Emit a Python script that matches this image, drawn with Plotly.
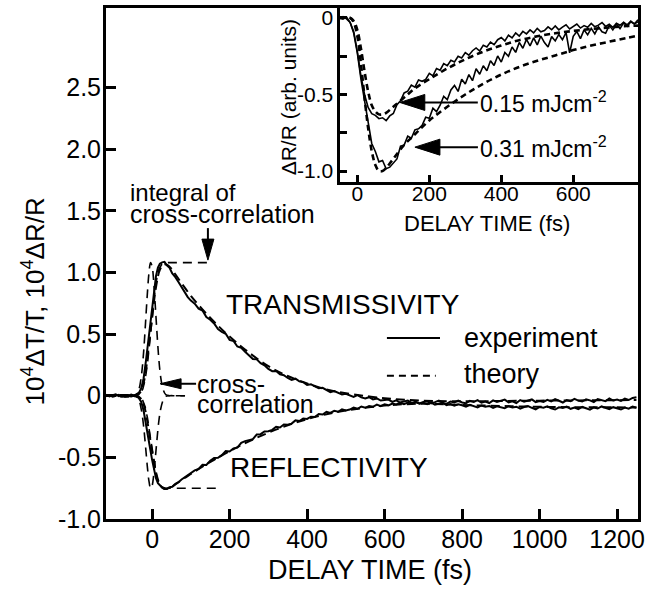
import plotly.graph_objects as go

FONT = "Liberation Sans, Arial, Helvetica, sans-serif"

# ---------------- main panel data ----------------
# delay times for the measured traces (fs)
t_exp = [
    -118, -110, -102, -94, -86, -78, -70, -62, -54, -46,
    -40, -34, -28, -22, -16, -10,
    -5, 0, 5, 10, 15, 20,
    26, 32, 38, 45, 52, 60, 68, 76, 84, 92, 100,
    110, 120, 130, 140, 150, 160, 170, 180, 190, 200,
    210, 220, 230, 240, 250, 260, 270, 280, 290, 300,
    310, 320, 330, 340, 350, 360, 370, 380, 390, 400,
    410, 420, 430, 440, 450, 460, 470, 480, 490, 500,
    510, 520, 530, 540, 550, 560, 570, 580, 590, 600,
    610, 620, 630, 640, 650, 660, 670, 680, 690, 700,
    710, 720, 730, 740, 750, 760, 770, 780, 790, 800,
    810, 820, 830, 840, 850, 860, 870, 880, 890, 900,
    910, 920, 930, 940, 950, 960, 970, 980, 990, 1000,
    1010, 1020, 1030, 1040, 1050, 1060, 1070, 1080, 1090, 1100,
    1110, 1120, 1130, 1140, 1150, 1160, 1170, 1180, 1190, 1200,
    1210, 1220, 1230, 1240, 1250,
]

# transmissivity, experiment (1e4 dT/T)
trans_exp = [
    0.008, -0.006, 0.004, 0.012, -0.004, 0.006, -0.008, 0.002, 0.01, 0.0,
    0.01, 0.025, 0.06, 0.14, 0.28, 0.44,
    0.57, 0.71, 0.85, 0.97, 1.04, 1.07,
    1.082, 1.086, 1.058, 1.038, 0.992, 0.962, 0.922, 0.878, 0.842, 0.800, 0.772,
    0.747, 0.706, 0.691, 0.638, 0.616, 0.586, 0.540, 0.518, 0.502, 0.453,
    0.444, 0.399, 0.388, 0.357, 0.324, 0.298, 0.295, 0.264, 0.247, 0.217,
    0.199, 0.200, 0.174, 0.166, 0.144, 0.128, 0.138, 0.116, 0.110, 0.087,
    0.092, 0.073, 0.060, 0.064, 0.047, 0.029, 0.038, 0.025, 0.010, 0.016,
    0.002, -0.009, 0.005, -0.014, -0.022, -0.012, -0.030, -0.022, -0.039, -0.033,
    -0.031, -0.050, -0.037, -0.055, -0.046, -0.040, -0.058, -0.049, -0.063, -0.050,
    -0.045, -0.062, -0.052, -0.040, -0.058, -0.066, -0.047, -0.054, -0.039, -0.055,
    -0.061, -0.042, -0.050, -0.036, -0.057, -0.047, -0.060, -0.038, -0.051, -0.043,
    -0.032, -0.054, -0.045, -0.060, -0.035, -0.048, -0.041, -0.030, -0.052, -0.044,
    -0.050, -0.033, -0.046, -0.028, -0.041, -0.055, -0.036, -0.044, -0.025, -0.040,
    -0.047, -0.030, -0.038, -0.052, -0.027, -0.036, -0.045, -0.022, -0.039, -0.031,
    -0.042, -0.024, -0.035, -0.018, -0.012,
]

# reflectivity, experiment (1e4 dR/R)
refl_exp = [
    -0.004, 0.006, -0.008, 0.002, 0.008, -0.006, 0.004, -0.002, -0.006, 0.002,
    -0.005, -0.02, -0.05, -0.12, -0.22, -0.33,
    -0.43, -0.52, -0.60, -0.67, -0.71, -0.73,
    -0.745, -0.752, -0.755, -0.742, -0.738, -0.714, -0.702, -0.68, -0.662, -0.645, -0.628,
    -0.606, -0.594, -0.560, -0.561, -0.527, -0.505, -0.504, -0.482, -0.449, -0.452,
    -0.427, -0.421, -0.382, -0.368, -0.361, -0.352, -0.315, -0.312, -0.290, -0.288,
    -0.277, -0.252, -0.258, -0.233, -0.236, -0.226, -0.200, -0.205, -0.185, -0.188,
    -0.170, -0.172, -0.148, -0.152, -0.131, -0.140, -0.122, -0.130, -0.111, -0.119,
    -0.112, -0.097, -0.106, -0.088, -0.098, -0.083, -0.090, -0.072, -0.085, -0.070,
    -0.078, -0.063, -0.071, -0.058, -0.069, -0.056, -0.066, -0.052, -0.064, -0.057,
    -0.068, -0.055, -0.072, -0.064, -0.058, -0.076, -0.067, -0.080, -0.070, -0.078,
    -0.088, -0.074, -0.085, -0.095, -0.079, -0.090, -0.083, -0.099, -0.086, -0.094,
    -0.102, -0.085, -0.096, -0.089, -0.105, -0.092, -0.084, -0.098, -0.110, -0.091,
    -0.097, -0.086, -0.103, -0.112, -0.094, -0.100, -0.088, -0.106, -0.096, -0.108,
    -0.091, -0.102, -0.113, -0.095, -0.104, -0.087, -0.099, -0.109, -0.093, -0.101,
    -0.112, -0.096, -0.105, -0.089, -0.098,
]

# theory curves
t_theory = [-120, -40, -30, -20, -10, 0, 10, 20, 30, 40, 50, 60, 80, 100, 130,
            160, 200, 250, 300, 350, 400, 450, 500, 600, 700, 800, 1000, 1250]
trans_theory = [0.0, 0.0, 0.03, 0.13, 0.36, 0.63, 0.88, 1.02, 1.065, 1.06, 1.03,
                0.985, 0.895, 0.81, 0.70, 0.60, 0.48, 0.35, 0.24, 0.16, 0.10,
                0.05, 0.02, -0.02, -0.04, -0.045, -0.04, -0.035]
refl_theory = [0.0, 0.0, -0.02, -0.09, -0.25, -0.45, -0.62, -0.72, -0.755, -0.755,
               -0.74, -0.72, -0.675, -0.635, -0.575, -0.52, -0.45, -0.37, -0.30,
               -0.24, -0.19, -0.15, -0.12, -0.08, -0.065, -0.075, -0.09, -0.095]

# pump-probe cross-correlation (scaled to each signal)
t_cc = [-60, -45, -35, -28, -22, -17, -12, -8, -4, 0, 4, 8, 12, 17, 22, 28, 35, 45, 60, 85]
cc_trans = [0.0, 0.0, 0.045, 0.155, 0.35, 0.59, 0.84, 1.0, 1.08, 1.05, 0.93, 0.74,
            0.54, 0.31, 0.155, 0.055, 0.01, 0.0, 0.0, 0.0]
cc_refl = [0.0, 0.0, -0.03, -0.11, -0.245, -0.41, -0.585, -0.695, -0.75, -0.73,
           -0.645, -0.515, -0.375, -0.215, -0.11, -0.04, -0.005, 0.0, 0.0, 0.0]

# integral of the cross-correlation
t_int_trans = [-60, -40, -30, -24, -18, -12, -6, 0, 6, 12, 18, 25, 35, 150]
int_trans = [0.0, 0.005, 0.02, 0.055, 0.13, 0.26, 0.44, 0.64, 0.82, 0.95, 1.03, 1.065, 1.08, 1.08]
t_int_refl = [-60, -40, -30, -24, -18, -12, -6, 0, 6, 12, 18, 25, 35, 175]
int_refl = [0.0, -0.004, -0.015, -0.04, -0.09, -0.18, -0.31, -0.44, -0.57, -0.66,
            -0.715, -0.74, -0.75, -0.75]

# ---------------- inset data ----------------
t_in = [
    -50, -40, -30, -20, -10, 0, 10, 20, 30, 40,
    50, 60, 70, 80, 90, 100, 110, 120, 130, 140,
    150, 160, 170, 180, 190, 200, 210, 220, 230, 240,
    250, 260, 270, 280, 290, 300, 310, 320, 330, 340,
    350, 360, 370, 380, 390, 400, 410, 420, 430, 440,
    450, 460, 470, 480, 490, 500, 510, 520, 530, 540,
    550, 560, 570, 580, 590, 600, 610, 620, 630, 640,
    650, 660, 670, 680, 690, 700, 710, 720, 730, 740,
    750, 760, 770, 780,
]
fluence_015 = [
    0.0, 0.008, -0.006, -0.03, -0.09, -0.22, -0.38, -0.50, -0.585, -0.625,
    -0.636, -0.658, -0.652, -0.671, -0.64, -0.624, -0.566, -0.541, -0.49, -0.478,
    -0.438, -0.452, -0.405, -0.414, -0.401, -0.362, -0.378, -0.33, -0.341, -0.298,
    -0.312, -0.276, -0.288, -0.25, -0.262, -0.226, -0.243, -0.214, -0.196, -0.216,
    -0.178, -0.19, -0.158, -0.175, -0.142, -0.128, -0.15, -0.112, -0.13, -0.098,
    -0.118, -0.088, -0.104, -0.078, -0.097, -0.068, -0.09, -0.082, -0.058, -0.077,
    -0.052, -0.078, -0.06, -0.045, -0.072, -0.058, -0.04, -0.066, -0.05, -0.061,
    -0.036, -0.058, -0.047, -0.03, -0.055, -0.041, -0.062, -0.035, -0.048, -0.028,
    -0.045, -0.02, -0.038, -0.025,
]
fluence_031 = [
    0.0, -0.008, 0.006, -0.03, -0.1, -0.23, -0.40, -0.55, -0.70, -0.82,
    -0.872, -0.94, -0.931, -0.985, -0.975, -0.944, -0.921, -0.838, -0.831, -0.772,
    -0.786, -0.731, -0.724, -0.702, -0.648, -0.655, -0.589, -0.612, -0.57, -0.512,
    -0.534, -0.47, -0.441, -0.48, -0.40, -0.432, -0.37, -0.41, -0.332, -0.368,
    -0.312, -0.345, -0.28, -0.31, -0.248, -0.288, -0.226, -0.25, -0.19, -0.225,
    -0.16, -0.198, -0.14, -0.182, -0.13, -0.176, -0.118, -0.161, -0.19, -0.122,
    -0.15, -0.108, -0.142, -0.095, -0.228, -0.12, -0.088, -0.135, -0.078, -0.11,
    -0.068, -0.104, -0.058, -0.09, -0.1, -0.048, -0.078, -0.04, -0.07, -0.032,
    -0.055, -0.025, -0.04, -0.012,
]
t_in_theory = [-50, -20, -10, 0, 10, 20, 30, 40, 50, 60, 70, 80, 100, 130, 160,
               200, 250, 300, 350, 400, 450, 500, 550, 600, 650, 700, 750, 780]
theory_015 = [0.0, 0.0, -0.02, -0.08, -0.2, -0.35, -0.48, -0.57, -0.61, -0.63, -0.63,
              -0.62, -0.58, -0.52, -0.46, -0.40, -0.33, -0.27, -0.22, -0.18, -0.145,
              -0.12, -0.10, -0.085, -0.072, -0.062, -0.053, -0.05]
theory_031 = [0.0, 0.0, -0.03, -0.12, -0.3, -0.52, -0.72, -0.87, -0.96, -1.0, -1.0,
              -0.98, -0.92, -0.83, -0.76, -0.67, -0.58, -0.50, -0.43, -0.37, -0.32,
              -0.28, -0.245, -0.21, -0.18, -0.155, -0.13, -0.115]

fig = go.Figure()

solid = dict(color="black", width=2)
dashed = dict(color="black", width=2, dash="9px,5px")
thin_dash = dict(color="black", width=1.6, dash="9px,6px")

# main panel traces
fig.add_trace(go.Scatter(x=t_theory, y=trans_theory, mode="lines", line=dashed, line_shape="spline"))
fig.add_trace(go.Scatter(x=t_theory, y=refl_theory, mode="lines", line=dashed, line_shape="spline"))
fig.add_trace(go.Scatter(x=t_cc, y=cc_trans, mode="lines", line=thin_dash, line_shape="spline"))
fig.add_trace(go.Scatter(x=t_cc, y=cc_refl, mode="lines", line=thin_dash, line_shape="spline"))
fig.add_trace(go.Scatter(x=t_int_trans, y=int_trans, mode="lines", line=thin_dash))
fig.add_trace(go.Scatter(x=t_int_refl, y=int_refl, mode="lines", line=thin_dash))
fig.add_trace(go.Scatter(x=t_exp, y=trans_exp, mode="lines", line=solid))
fig.add_trace(go.Scatter(x=t_exp, y=refl_exp, mode="lines", line=solid))

# inset traces
inset_dash = dict(color="black", width=2.6, dash="6px,4px")
inset_solid = dict(color="black", width=1.6)
fig.add_trace(go.Scatter(x=t_in_theory, y=theory_015, mode="lines", line=inset_dash,
                         line_shape="spline", xaxis="x2", yaxis="y2"))
fig.add_trace(go.Scatter(x=t_in_theory, y=theory_031, mode="lines", line=inset_dash,
                         line_shape="spline", xaxis="x2", yaxis="y2"))
fig.add_trace(go.Scatter(x=t_in, y=fluence_015, mode="lines", line=inset_solid,
                         xaxis="x2", yaxis="y2"))
fig.add_trace(go.Scatter(x=t_in, y=fluence_031, mode="lines", line=inset_solid,
                         xaxis="x2", yaxis="y2"))

axis_common = dict(showgrid=False, zeroline=False, showline=True, linecolor="black",
                   mirror=True, ticks="inside", tickcolor="black")

fig.update_layout(
    width=650, height=589,
    margin=dict(l=106, r=12, t=5, b=70),
    paper_bgcolor="white", plot_bgcolor="white",
    showlegend=False,
    font=dict(family=FONT, color="black"),
    xaxis=dict(axis_common, range=[-119, 1254], tickvals=[0, 200, 400, 600, 800, 1000, 1200],
               linewidth=3, tickwidth=3, ticklen=10, tickfont=dict(size=25),
               ticklabelstandoff=-4),
    yaxis=dict(axis_common, range=[-1.0, 3.145],
               tickvals=[-1.0, -0.5, 0, 0.5, 1.0, 1.5, 2.0, 2.5],
               ticktext=["-1.0", "-0.5", "0", "0.5", "1.0", "1.5", "2.0", "2.5"],
               linewidth=3, tickwidth=3, ticklen=10, tickfont=dict(size=25),
               ticklabelstandoff=-3),
    xaxis2=dict(axis_common, domain=[0.44, 1.0], anchor="y2", range=[-48, 780],
                tickvals=[0, 200, 400, 600], linewidth=2.5, tickwidth=2.5, ticklen=7,
                tickfont=dict(size=21), ticklabelstandoff=-9),
    yaxis2=dict(axis_common, domain=[0.66, 1.0], anchor="x2", range=[-1.07, 0.065],
                tickvals=[0, -0.5, -1.0], ticktext=["0", "-0.5", "-1.0"],
                linewidth=2.5, tickwidth=2.5, ticklen=7, tickfont=dict(size=21),
                minor=dict(ticks="inside", tick0=0, dtick=0.25, ticklen=7, tickwidth=2.5,
                           tickcolor="black", showgrid=False)),
)

annotations = []


def label(text, x, y, size, xanchor="left", xref="x", yref="y", angle=0):
    annotations.append(dict(text=text, x=x, y=y, xref=xref, yref=yref, showarrow=False,
                            xanchor=xanchor, yanchor="middle", textangle=angle,
                            font=dict(family=FONT, size=size, color="black")))


# axis titles
label("10<sup>4</sup>ΔT/T, 10<sup>4</sup>ΔR/R", -0.137, 0.426, 26, "center", "paper", "paper", -90)
label("DELAY TIME (fs)", 0.496, -0.099, 27, "center", "paper", "paper")
label("ΔR/R (arb. units)", 0.342, 0.825, 21, "center", "paper", "paper", -90)
label("DELAY TIME (fs)", 0.716, 0.578, 22, "center", "paper", "paper")

# main panel texts
label("integral of", -62, 1.645, 24)
label("cross-correlation", -62, 1.476, 25)
label("TRANSMISSIVITY", 493, 0.742, 28, "center")
label("REFLECTIVITY", 457, -0.581, 28, "center")
label("cross-", 111, 0.097, 25)
label("correlation", 111, -0.065, 25)
label("experiment", 800, 0.468, 27)
label("theory", 800, 0.177, 27)

# inset texts
label("0.15 mJcm<sup>-2</sup>", 335, -0.552, 23, xref="x2", yref="y2")
label("0.31 mJcm<sup>-2</sup>", 335, -0.844, 23, xref="x2", yref="y2")

fig.update_layout(annotations=annotations)

shapes = []


def arrow(x, y, direction, shaft, head_len, head_half, xref="x", yref="y"):
    # tip at (x, y); pixel-sized shaft and filled head
    if direction == "left":
        shaft_path = f"M{head_len - 2},0 L{shaft},0"
        head_path = f"M0,0 L{head_len},{head_half} L{head_len},{-head_half} Z"
    else:  # down
        shaft_path = f"M0,{head_len - 2} L0,{shaft}"
        head_path = f"M0,0 L{-head_half},{head_len} L{head_half},{head_len} Z"
    for path, fill in ((shaft_path, None), (head_path, "black")):
        shp = dict(type="path", path=path, xref=xref, yref=yref, xsizemode="pixel",
                   ysizemode="pixel", xanchor=x, yanchor=y,
                   line=dict(color="black", width=2))
        if fill:
            shp["fillcolor"] = fill
            shp["line"] = dict(color="black", width=1)
        shapes.append(shp)


arrow(144, 1.10, "down", 32, 21, 6)
arrow(20.6, 0.097, "left", 36, 21, 5)
arrow(118, -0.552, "left", 78, 25, 8, "x2", "y2")
arrow(160, -0.844, "left", 63, 25, 8, "x2", "y2")

# legend keys
shapes.append(dict(type="line", xref="x", yref="y", x0=606, x1=743, y0=0.468, y1=0.468,
                   line=dict(color="black", width=2)))
shapes.append(dict(type="line", xref="x", yref="y", x0=606, x1=732, y0=0.161, y1=0.161,
                   line=dict(color="black", width=2, dash="7px,5px")))

fig.update_layout(shapes=shapes)

# page body margin would shift the 650x589 figure inside the window
fig.write_html("out.html", config={"displayModeBar": False},
               post_script="document.body.style.margin='0';")
